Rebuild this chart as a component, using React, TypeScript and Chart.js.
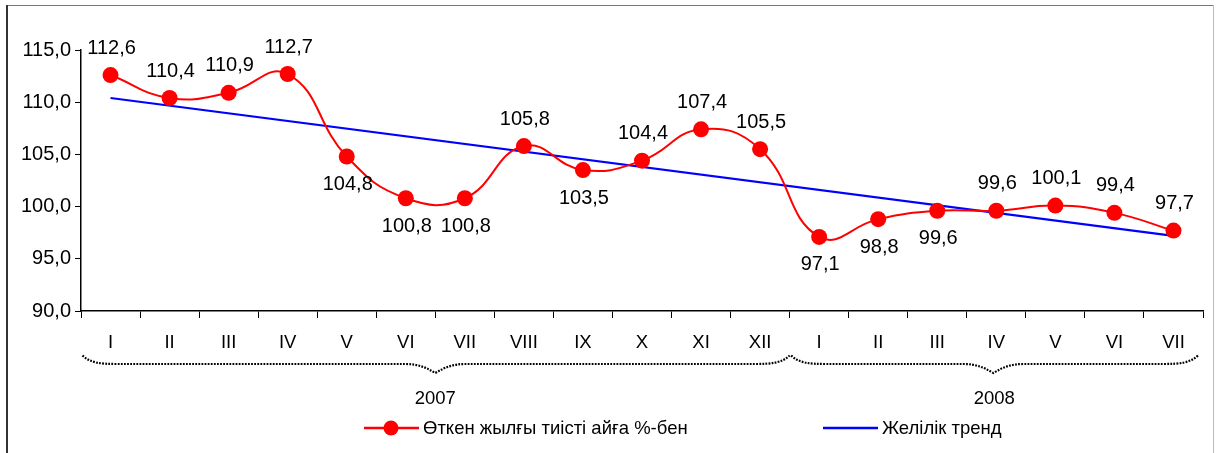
import React, { useEffect, useRef } from "react";
import { Chart, registerables } from "chart.js";

Chart.register(...registerables);

const monthLabels = ["I", "II", "III", "IV", "V", "VI", "VII", "VIII", "IX", "X", "XI", "XII", "I", "II", "III", "IV", "V", "VI", "VII"];
const seriesValues = [112.6, 110.4, 110.9, 112.7, 104.8, 100.8, 100.8, 105.8, 103.5, 104.4, 107.4, 105.5, 97.1, 98.8, 99.6, 99.6, 100.1, 99.4, 97.7];
const labelPlacement = ["above", "above", "above", "above", "below", "below", "below", "above", "below", "above", "above", "above", "below", "below", "below", "above", "above", "above", "above"];
const trendEnds = [110.4, 97.2];
const yearGroups = [
  { year: "2007", from: 0, to: 11 },
  { year: "2008", from: 12, to: 18 },
];
const seriesName = "Өткен жылғы тиісті айға %-бен";
const trendName = "Желілік тренд";
const yTicks = { min: 90, max: 115, step: 5 };

const FONT = "'Liberation Sans', Arial, sans-serif";
const fmt = (v: number) => v.toFixed(1).replace(".", ",");

const overlayPlugin = {
  id: "overlay",
  afterDatasetsDraw(chart: any) {
    const ctx = chart.ctx;
    const meta = chart.getDatasetMeta(0);
    ctx.save();
    ctx.fillStyle = "#000";
    ctx.font = `20px ${FONT}`;
    ctx.textAlign = "center";
    ctx.textBaseline = "middle";
    meta.data.forEach((pt: any, i: number) => {
      const dy = labelPlacement[i] === "below" ? 28 : -27;
      ctx.fillText(fmt(seriesValues[i]), pt.x + 1, pt.y + dy);
    });
    ctx.restore();
  },
  afterDraw(chart: any) {
    const ctx = chart.ctx;
    const xs = chart.scales.x;
    const n = monthLabels.length;
    const step = (xs.right - xs.left) / n;
    const bnd = (i: number) => xs.left + i * step;
    const base = chart.chartArea.bottom;
    ctx.save();
    // braces
    ctx.strokeStyle = "#000";
    ctx.lineWidth = 2.2;
    ctx.setLineDash([1.8, 1.3]);
    yearGroups.forEach((g, gi) => {
      const x0 = bnd(g.from) + 1.5;
      const x1 = gi === yearGroups.length - 1 ? bnd(g.to + 1) - 5 : bnd(g.to + 1);
      const c = (bnd(g.from) + bnd(g.to + 1)) / 2 - (gi === 1 ? 3 : 0);
      const yTop = base + 44.5;
      const yMid = base + 53;
      const yTip = base + 62;
      ctx.beginPath();
      ctx.moveTo(x0, yTop);
      ctx.bezierCurveTo(x0 + 8, yMid - 1, x0 + 18, yMid, x0 + 35, yMid);
      ctx.lineTo(c - 30, yMid);
      ctx.bezierCurveTo(c - 18, yMid, c - 10, yMid + 3, c, yTip);
      ctx.bezierCurveTo(c + 10, yMid + 3, c + 18, yMid, c + 30, yMid);
      ctx.lineTo(x1 - 35, yMid);
      ctx.bezierCurveTo(x1 - 18, yMid, x1 - 8, yMid - 1, x1, yTop);
      ctx.stroke();
      // year labels
      ctx.save();
      ctx.setLineDash([]);
      ctx.fillStyle = "#000";
      ctx.font = `18.5px ${FONT}`;
      ctx.textAlign = "center";
      ctx.textBaseline = "middle";
      ctx.fillText(g.year, c + (gi === 1 ? 1 : 0), base + 88);
      ctx.restore();
    });
    ctx.setLineDash([]);

    // legend
    const ly = 428;
    ctx.lineWidth = 2.5;
    ctx.strokeStyle = "#ff0000";
    ctx.beginPath();
    ctx.moveTo(364, ly);
    ctx.lineTo(419, ly);
    ctx.stroke();
    ctx.fillStyle = "#ff0000";
    ctx.beginPath();
    ctx.arc(391, ly, 7.5, 0, Math.PI * 2);
    ctx.fill();
    ctx.strokeStyle = "#0000ff";
    ctx.beginPath();
    ctx.moveTo(823, ly);
    ctx.lineTo(878, ly);
    ctx.stroke();
    ctx.fillStyle = "#000";
    ctx.font = `18.5px ${FONT}`;
    ctx.textAlign = "left";
    ctx.textBaseline = "middle";
    ctx.fillText(seriesName, 423, ly + 1);
    ctx.fillText(trendName, 882, ly + 1);

    // frame
    ctx.lineWidth = 1;
    ctx.strokeStyle = "#777";
    ctx.beginPath();
    ctx.moveTo(6, 5.5);
    ctx.lineTo(1214, 5.5);
    ctx.stroke();
    ctx.strokeStyle = "#bbb";
    ctx.beginPath();
    ctx.moveTo(1213.5, 5);
    ctx.lineTo(1213.5, 453);
    ctx.stroke();
    ctx.lineWidth = 2;
    ctx.strokeStyle = "#333";
    ctx.beginPath();
    ctx.moveTo(7, 5);
    ctx.lineTo(7, 453);
    ctx.stroke();
    ctx.restore();
  },
};

export default function App() {
  const ref = useRef<HTMLCanvasElement | null>(null);
  useEffect(() => {
    document.body.style.margin = "0";
    const canvas = ref.current;
    if (!canvas) return;
    const trendData = seriesValues.map((_, i) =>
      i === 0 ? trendEnds[0] : i === seriesValues.length - 1 ? trendEnds[1] : null
    );
    const chart = new Chart(canvas, {
      type: "line",
      data: {
        labels: monthLabels,
        datasets: [
          {
            label: seriesName,
            data: seriesValues,
            borderColor: "#ff0000",
            backgroundColor: "#ff0000",
            borderWidth: 2,
            tension: 0.45,
            pointRadius: 8,
            pointHoverRadius: 8,
            pointBackgroundColor: "#ff0000",
            pointBorderWidth: 0,
            clip: false as any,
            order: 1,
          },
          {
            label: trendName,
            data: trendData,
            borderColor: "#0000ff",
            borderWidth: 2.2,
            pointRadius: 0,
            spanGaps: true,
            tension: 0,
            order: 2,
          },
        ],
      },
      options: {
        responsive: false,
        animation: false,
        devicePixelRatio: 1,
        layout: { padding: { top: 50, right: 13, left: 0, bottom: 0 } },
        plugins: { legend: { display: false }, tooltip: { enabled: false } },
        scales: {
          x: {
            offset: true,
            grid: {
              offset: true,
              drawOnChartArea: false,
              tickLength: 7,
              color: "#000",
              lineWidth: 1,
            },
            border: { display: true, color: "#000", width: 1.5 },
            ticks: {
              color: "#000",
              font: { size: 18.5, family: FONT },
              padding: 14,
              maxRotation: 0,
              autoSkip: false,
            },
            afterFit: (s: any) => {
              s.height = 142;
            },
          },
          y: {
            min: yTicks.min,
            max: yTicks.max,
            grid: {
              drawOnChartArea: false,
              tickLength: 6,
              color: "#000",
              lineWidth: 1,
            },
            border: { display: true, color: "#000", width: 1.5 },
            ticks: {
              stepSize: yTicks.step,
              color: "#000",
              font: { size: 20, family: FONT },
              padding: 4,
              callback: (v: any) => fmt(Number(v)),
            },
            afterFit: (s: any) => {
              s.width = 81;
            },
          },
        },
      },
      plugins: [overlayPlugin],
    });
    return () => chart.destroy();
  }, []);
  return (
    <div style={{ width: 1216, height: 453, position: "relative", background: "#fff" }}>
      <canvas ref={ref} width={1216} height={453} style={{ display: "block" }} />
    </div>
  );
}
